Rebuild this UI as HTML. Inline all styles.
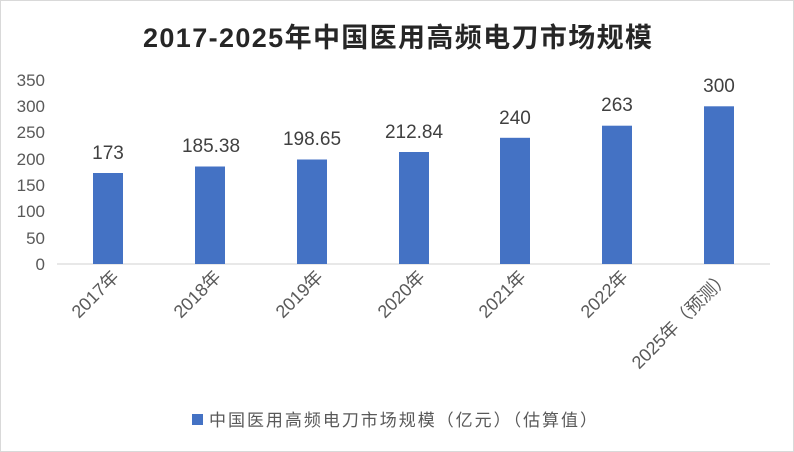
<!DOCTYPE html>
<html><head><meta charset="utf-8"><style>
html,body{margin:0;padding:0;background:#fff}
svg{display:block;font-family:"Liberation Sans","Noto Sans CJK SC",sans-serif}
</style></head><body>
<svg width="794" height="452" viewBox="0 0 794 452">
<rect x="0.5" y="0.5" width="793" height="451" fill="#fff" stroke="#d9d9d9"/>
<text x="143" y="47" font-size="27" font-weight="bold" fill="#262626" textLength="509" lengthAdjust="spacing">2017-2025年中国医用高频电刀市场规模</text>
<g font-size="17" fill="#595959" text-anchor="end">
<text x="45" y="270">0</text>
<text x="45" y="244">50</text>
<text x="45" y="217">100</text>
<text x="45" y="191">150</text>
<text x="45" y="165">200</text>
<text x="45" y="138">250</text>
<text x="45" y="112">300</text>
<text x="45" y="86">350</text>
</g>
<line x1="57" y1="264" x2="770" y2="264" stroke="#d9d9d9" stroke-width="1.2"/>
<g fill="#4472c4">
<rect x="93" y="173" width="30" height="91"/>
<rect x="195" y="166.5" width="30" height="97.5"/>
<rect x="297" y="159.5" width="30" height="104.5"/>
<rect x="399" y="152" width="30" height="112"/>
<rect x="500" y="137.8" width="30" height="126.2"/>
<rect x="602" y="125.7" width="30" height="138.3"/>
<rect x="704" y="106.3" width="30" height="157.7"/>
</g>
<g font-size="19" fill="#404040" text-anchor="middle">
<text x="108" y="159">173</text>
<text x="211" y="152">185.38</text>
<text x="312" y="145">198.65</text>
<text x="414" y="138">212.84</text>
<text x="515" y="124">240</text>
<text x="617" y="111">263</text>
<text x="719" y="92">300</text>
</g>
<g font-size="18" fill="#595959" text-anchor="end">
<text transform="translate(120,278) rotate(-45)">2017年</text>
<text transform="translate(222,278) rotate(-45)">2018年</text>
<text transform="translate(324,278) rotate(-45)">2019年</text>
<text transform="translate(426,278) rotate(-45)">2020年</text>
<text transform="translate(527,278) rotate(-45)">2021年</text>
<text transform="translate(629,278) rotate(-45)">2022年</text>
<text transform="translate(731,278) rotate(-45)" textLength="130" lengthAdjust="spacing">2025年（预测）</text>
</g>
<rect x="192" y="414" width="11" height="11" fill="#4472c4"/>
<text x="209" y="426" font-size="17" fill="#595959" textLength="388" lengthAdjust="spacing">中国医用高频电刀市场规模（亿元）（估算值）</text>
</svg>
</body></html>
